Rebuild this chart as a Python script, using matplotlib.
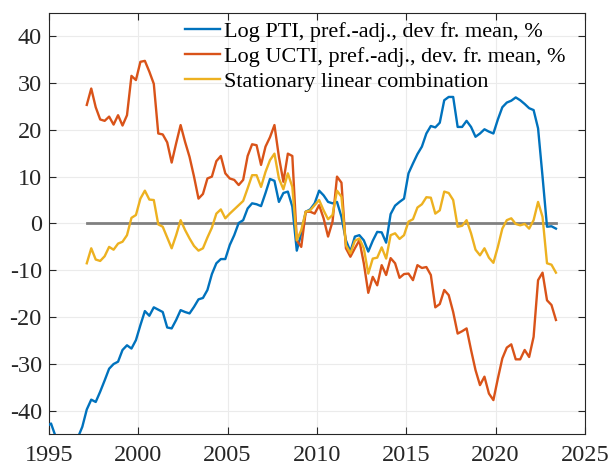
import numpy as np
import matplotlib
matplotlib.use('Agg')
import matplotlib.pyplot as plt

plt.rcParams['font.family'] = 'serif'
plt.rcParams['font.serif'] = ['Liberation Serif', 'DejaVu Serif']
plt.rcParams['axes.unicode_minus'] = False

# quarterly data, plotted at mid-quarter
pti_start = 1994.875
pti = [-43.3, -42.7, -45.4, -47, -48, -48, -47, -45.7, -43.4,
       -39.7, -37.6, -38.1, -35.9, -33.5, -31, -30, -29.5,
       -27, -26, -26.7, -24.9, -21.7, -18.7, -19.7, -17.9,
       -18.4, -18.9, -22.2, -22.4, -20.6, -18.5, -18.9, -19.2,
       -17.8, -16.2, -15.9, -14.2, -10.8, -8.5, -7.6, -7.6,
       -4.6, -2.5, 0.1, 0.7, 3.2, 4.3, 4.1, 3.7,
       6.5, 9.5, 9.1, 4.6, 6.5, 6.8, 3.6, -5.8,
       -2.1, 2.5, 3, 4.3, 7, 6, 4.6, 4.3,
       4.6, 1.4, -3.6, -6, -2.8, -2.5, -3.6, -6,
       -3.7, -1.8, -1.9, -4.1, 2, 3.8, 4.6, 5.3,
       10.7, 12.8, 14.8, 16.4, 19.2, 20.8, 20.5, 21.5,
       26.3, 27, 27, 20.6, 20.6, 21.9, 20.6, 18.5,
       19.2, 20.1, 19.6, 19.2, 22.2, 24.8, 25.8, 26.2,
       26.9, 26.3, 25.5, 24.6, 24.2, 20.3, 10, -0.7,
       -0.6, -1.1]

ucti_start = 1997.125
ucti = [25.3, 28.8, 24.8, 22.2,
        21.9, 22.8, 21.1, 23.1,
        20.9, 23.1, 31.5, 30.6,
        34.5, 34.7, 32.4, 29.8,
        19.2, 19, 17.3, 13,
        17.1, 21, 17.4, 14.2,
        10, 5.3, 6.3, 9.6,
        10, 13.3, 14.4, 10.7,
        9.6, 9.3, 8.2, 9.3,
        14.4, 16.9, 16.7, 12.5,
        16.4, 18.4, 21, 14.2,
        8.9, 14.9, 14.4, -3.6,
        -5, 2.5, 2.5, 2.1,
        3.9, 1.1, -2.8, 0.4,
        10, 8.7, -5.3, -7.1,
        -5.3, -3.6, -8.5, -14.8,
        -11.4, -13.2, -8.9, -11,
        -7.4, -8.5, -11.6, -10.8,
        -10.7, -12.1, -8.9, -9.5,
        -9.3, -11, -17.9, -17.2,
        -14.2, -15.3, -18.9, -23.5,
        -23, -22.4, -27, -31.3,
        -34.5, -32.7, -36.3, -37.7,
        -33.1, -28.8, -26.5, -25.8,
        -29, -29, -27, -28.5,
        -24.2, -12.1, -10.5, -16.4,
        -17.4, -20.6]

comb = [-8.5, -5.3, -7.7, -8,
        -7, -5, -5.6, -4.3,
        -3.9, -2.5, 1.2, 1.8,
        5.3, 7, 5.1, 5,
        -0.2, -0.7, -3, -5.3,
        -2.5, 0.7, -1.4, -3.2,
        -4.8, -5.8, -5.3, -3,
        -0.9, 2.1, 3, 1.1,
        2.1, 3, 3.9, 4.8,
        7.5, 10.3, 10.3, 7.8,
        11, 13.5, 14.9, 9.6,
        7.3, 10.7, 7.8, -3.6,
        -1.4, 2.5, 2.8, 3.9,
        5, 2.8, 0.9, 1.8,
        7, 5.7, -4.6, -6.4,
        -3.7, -3.2, -5.3, -10.7,
        -7.5, -7.3, -5.1, -7.5,
        -2.5, -2.1, -3.3, -2.5,
        0.4, 0.9, 3.4, 4.1,
        5.6, 5.5, 2.1, 2.8,
        6.8, 6.5, 5, -0.7,
        -0.5, 0.7, -2.1, -5.6,
        -6.8, -5.3, -7.3, -8.4,
        -5, -1.1, 0.7, 1.1,
        -0.1, -0.4, -0.1, -1.1,
        0.7, 4.6, 1.4, -8.5,
        -8.8, -10.5]

labels = ['Log PTI, pref.-adj., dev fr. mean, %',
          'Log UCTI, pref.-adj., dev. fr. mean, %',
          'Stationary linear combination']

t_pti = pti_start + 0.25*np.arange(len(pti))
t_uc = ucti_start + 0.25*np.arange(len(ucti))
t_cb = ucti_start + 0.25*np.arange(len(comb))

f = plt.figure(figsize=(6.1, 4.67), dpi=100)
ax = f.add_axes([0.080, 0.070, 0.879, 0.903])

ax.plot(t_uc, np.zeros(len(t_uc)), color='#808080', lw=2, zorder=1)
ax.plot(t_pti, pti, color='#0072BD', lw=1.7, label=labels[0], zorder=3)
ax.plot(t_uc, ucti, color='#D95319', lw=1.7, label=labels[1], zorder=3)
ax.plot(t_cb, comb, color='#EDB120', lw=1.7, label=labels[2], zorder=3)

ax.set_xlim(1995, 2025)
ax.set_ylim(-45, 45)
ax.set_xticks(np.arange(1995, 2026, 5))
ax.set_yticks(np.arange(-40, 41, 10))
ax.grid(color='#ebebeb', linewidth=0.8)
ax.set_axisbelow(True)
ax.tick_params(direction='in', top=True, right=True, labelsize=17.5,
               length=5, color='#262626', labelcolor='#262626')
ax.tick_params(axis='x', pad=8)
ax.tick_params(axis='y', pad=5)
for s in ax.spines.values():
    s.set_color('#262626')
    s.set_linewidth(0.8)

ax.legend(loc='upper left', frameon=False, fontsize=16, handlelength=1.6,
          handletextpad=0.15, labelspacing=0.2, borderaxespad=0.0,
          borderpad=0.0, bbox_to_anchor=(0.2537, 0.980))

plt.savefig('out.png', dpi=100)
